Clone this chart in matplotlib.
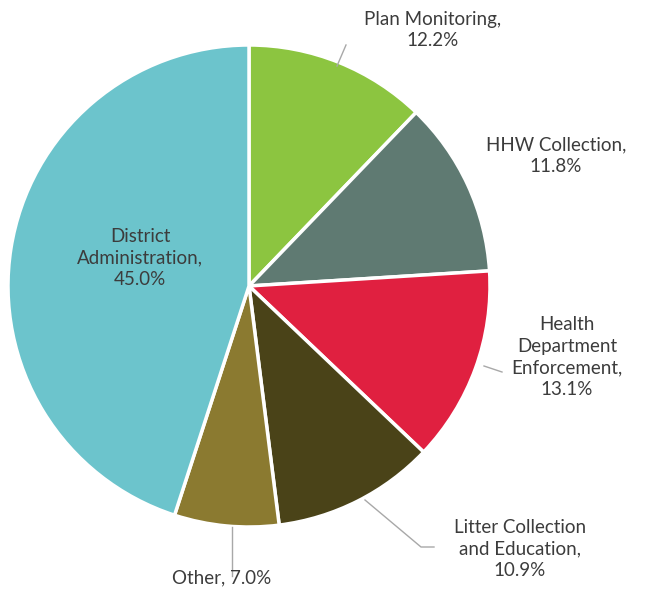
import matplotlib.pyplot as plt

labels = ["Plan Monitoring,\n12.2%", "HHW Collection,\n11.8%",
          "Health\nDepartment\nEnforcement,\n13.1%",
          "Litter Collection\nand Education,\n10.9%", "Other, 7.0%",
          "District\nAdministration,\n45.0%"]
values = [12.2, 11.8, 13.1, 10.9, 7.0, 45.0]
colors = ["#8cc540", "#5f7a72", "#e02040", "#4a4318", "#8b7a30", "#6cc4cc"]

H = 594
fig = plt.figure(figsize=(6.47, 5.94), dpi=100)
ax = fig.add_axes([0, 0, 1, 1])

ax.pie(values, colors=colors, startangle=90, counterclock=False,
       center=(249, H - 286), radius=241,
       wedgeprops=dict(edgecolor="white", linewidth=2.5))

# pie() resets the view, so set limits afterwards
ax.set_xlim(0, 647)
ax.set_ylim(0, H)
ax.set_aspect("equal")
ax.axis("off")

txt = dict(color="#3c3c3c", fontsize=13.5, family=["Lato", "DejaVu Sans"],
           ha="center", va="center", linespacing=1.35)
pos = [(433, 30), (556, 156), (567, 357), (520, 549), (222, 578), (140, 258)]
for lab, (x, y) in zip(labels, pos):
    ax.text(x, H - y, lab, **txt)

# leader lines
lc = dict(color="#a8a8a8", linewidth=1)
ax.plot([337, 346], [H - 66, H - 45], **lc)
ax.plot([484, 502], [H - 366, H - 372], **lc)
ax.plot([365, 421, 434], [H - 500, H - 547, H - 547], **lc)
ax.plot([232, 232], [H - 527, H - 576], **lc)

fig.savefig("out.png", dpi=100)
